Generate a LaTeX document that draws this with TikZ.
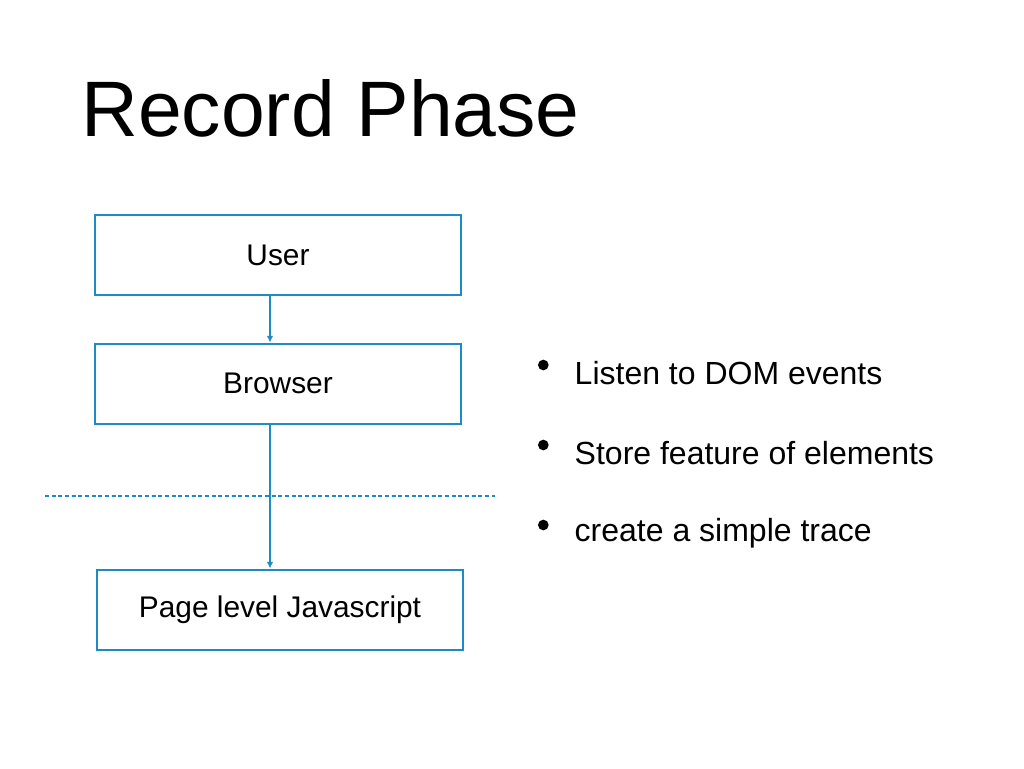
\documentclass[tikz,border=0pt]{standalone}
\usepackage{fontspec}
\setmainfont{Liberation Sans}
\begin{document}
\begin{tikzpicture}[x=0.75pt,y=-0.75pt,
  box/.style={draw=bl,line width=1.5pt,minimum width=366*0.75pt,minimum height=80*0.75pt,inner sep=0pt,font=\fontsize{22.4}{26}\selectfont},
  arr/.style={draw=bl,line width=1pt,-{Latex[length=5pt,width=5pt]}},
  bul/.style={anchor=west,font=\fontsize{24}{28}\selectfont}]
\usetikzlibrary{arrows.meta}
\definecolor{bl}{HTML}{1F8BC4}
\useasboundingbox (0,0) rectangle (1024,768);
\node[anchor=base west,font=\fontsize{59}{64}\selectfont,inner sep=0pt] (title) at (81,136) {Record Phase};
\node[box] (user) at (278,255) {User};
\node[box] (browser) at (278,383.5) {Browser};
\node[box] (page) at (280,609.5) {Page level Javascript};
\draw[arr] (user.south -| 270,0) -- (browser.north -| 270,0);
\draw[arr] (browser.south -| 270,0) -- (page.north -| 270,0);
\coordinate (dl) at (45,496); \coordinate (dr) at (495,496);
\draw[bl,dashed,line width=1pt,dash pattern=on 3pt off 2pt] (dl) -- (dr);
\node[bul] (b1) at (570,373) {Listen to DOM events};
\node[bul] (b2) at (570,453) {Store feature of elements};
\node[bul] (b3) at (570,533) {create a simple trace};
\foreach \n in {b1,b2,b3}{\fill ([xshift=-20pt,yshift=6pt]\n.west) circle (4pt);}
\end{tikzpicture}
\end{document}
